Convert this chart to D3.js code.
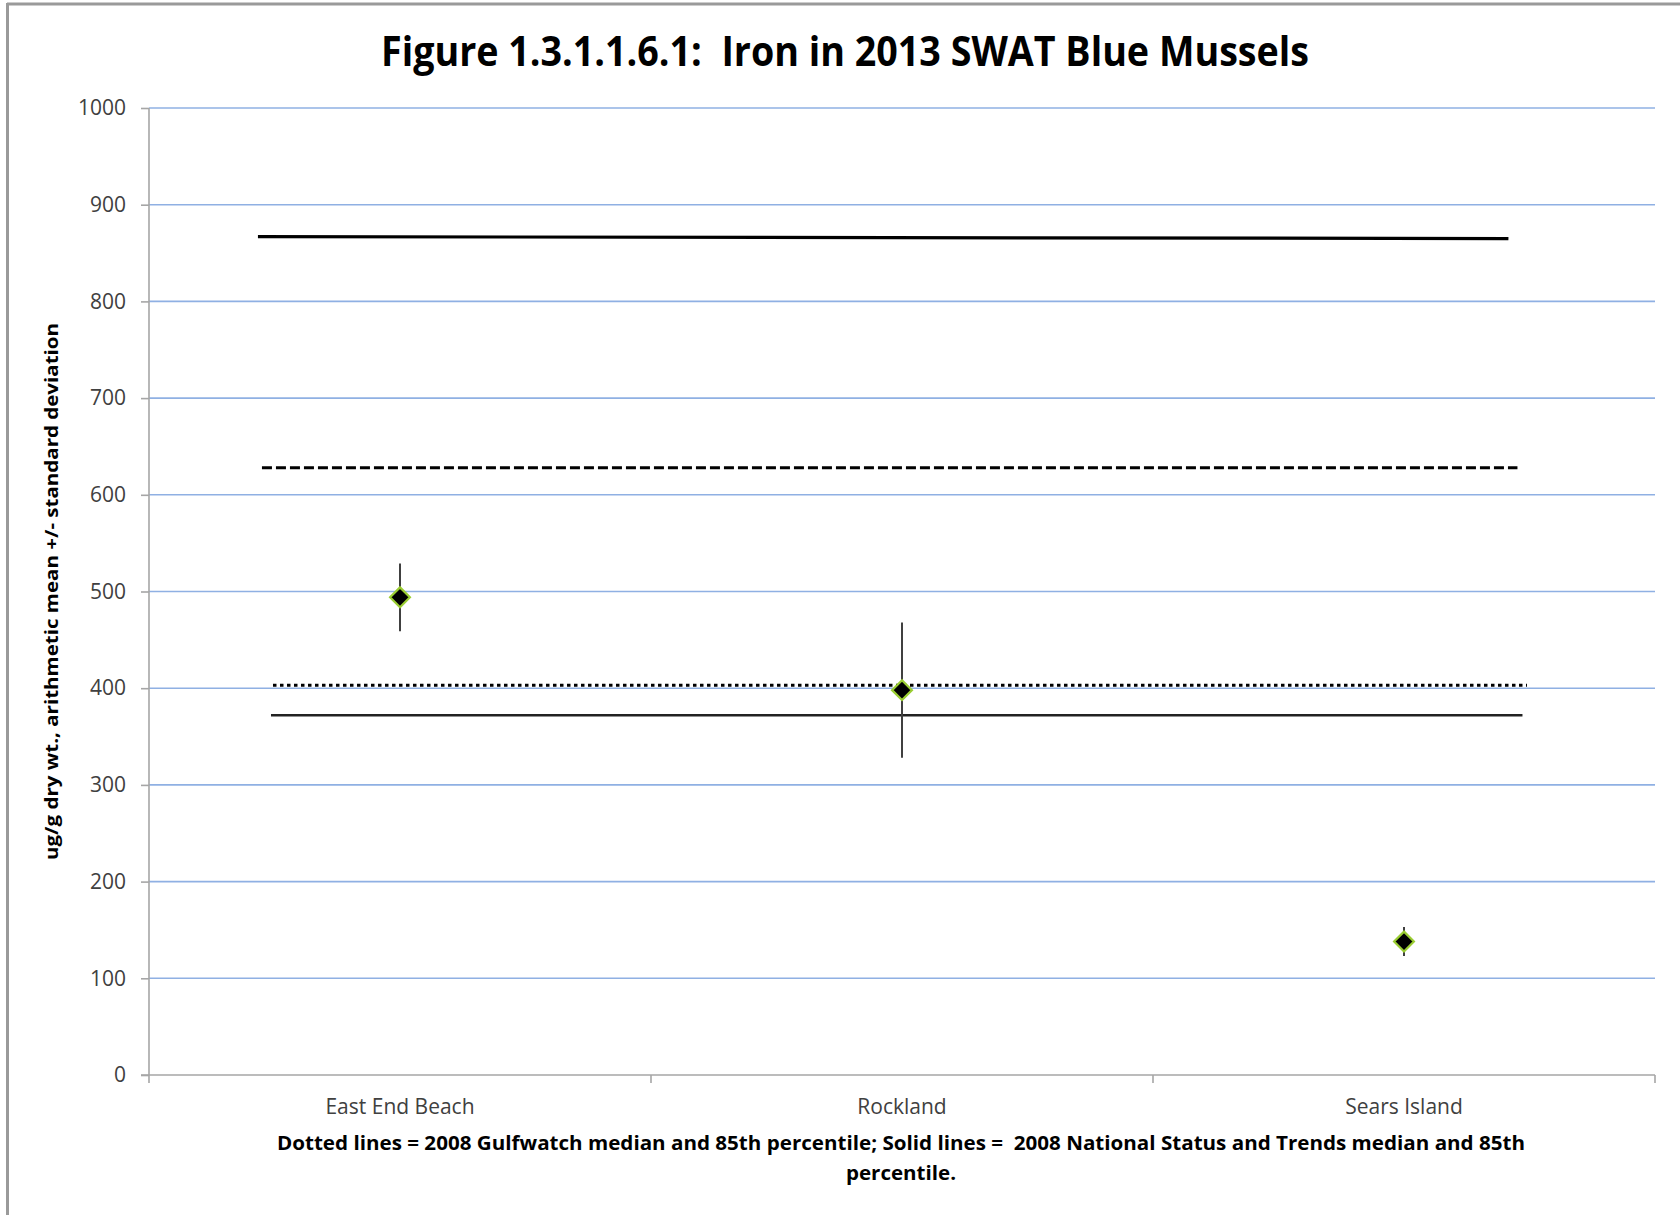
<!DOCTYPE html>
<html>
<head>
<meta charset="utf-8">
<script src="https://cdn.jsdelivr.net/npm/d3@7"></script>
<style>
  html, body { margin: 0; padding: 0; background: #fff; }
  svg { display: block; }
  text.pre { white-space: pre; }
</style>
</head>
<body>
<svg id="chart" width="1680" height="1215"></svg>
<script>
// ---- data ----
const categories = ["East End Beach", "Rockland", "Sears Island"];
const means = [494, 398, 138];
const stdDevs = [35, 70, 15];
const yTicks = [0, 100, 200, 300, 400, 500, 600, 700, 800, 900, 1000];

// reference lines (values in ug/g; extent in category-index units)
const refNames = ["NS&T 85th percentile", "Gulfwatch 85th percentile", "Gulfwatch median", "NS&T median"];
const refValuesStart = [867, 628, 403, 372];
const refValuesEnd = [865, 628, 403, 372];
const refStart = [-0.283, -0.275, -0.253, -0.257];
const refEnd = [2.208, 2.226, 2.245, 2.236];
const refKind = ["solid", "dashed", "dotted", "solid"];

const titleText = "Figure 1.3.1.1.6.1:  Iron in 2013 SWAT Blue Mussels";
const yLabelText = "ug/g dry wt., arithmetic mean +/- standard deviation";
const footLine1 = "Dotted lines = 2008 Gulfwatch median and 85th percentile; Solid lines =  2008 National Status and Trends median and 85th";
const footLine2 = "percentile.";

// ---- layout ----
const svg = d3.select("#chart");
const plot = { left: 149, right: 1655, top: 108, bottom: 1075 };

const x = d3.scaleBand().domain(categories).range([plot.left, plot.right]).padding(0);
const xi = d3.scaleLinear().domain([-0.5, categories.length - 0.5]).range([plot.left, plot.right]);
const y = d3.scaleLinear().domain([0, 1000]).range([plot.bottom, plot.top]);

const font = "'Open Sans', 'DejaVu Sans', sans-serif";

// outer frame (top & left edges visible)
svg.append("line").attr("x1", 7).attr("x2", 1680).attr("y1", 4).attr("y2", 4)
  .attr("stroke", "#9a9a9a").attr("stroke-width", 3);
svg.append("line").attr("x1", 7.5).attr("x2", 7.5).attr("y1", 3).attr("y2", 1215)
  .attr("stroke", "#9a9a9a").attr("stroke-width", 3);

// title
svg.append("text").attr("class", "pre")
  .attr("x", 845).attr("y", 66)
  .attr("text-anchor", "middle")
  .attr("font-family", font).attr("font-weight", "bold").attr("font-size", 42)
  .attr("fill", "#000")
  .attr("textLength", 928).attr("lengthAdjust", "spacingAndGlyphs")
  .text(titleText);

// gridlines
svg.append("g").selectAll("line")
  .data(yTicks.filter(d => d > 0))
  .join("line")
  .attr("x1", plot.left).attr("x2", plot.right)
  .attr("y1", d => y(d)).attr("y2", d => y(d))
  .attr("stroke", "#8fb0e3").attr("stroke-width", 1.6);

// y axis
const yAxis = d3.axisLeft(y).tickValues(yTicks).tickSize(8).tickPadding(15).tickFormat(d3.format("d"));
const gy = svg.append("g").attr("transform", `translate(${plot.left},0)`).call(yAxis);
gy.select(".domain").attr("stroke", "#a6a6a6").attr("stroke-width", 1.6).attr("d", `M0,${plot.top}V${plot.bottom}`);
gy.selectAll(".tick line").attr("stroke", "#a6a6a6").attr("stroke-width", 1.6);
gy.selectAll(".tick text").attr("font-family", font).attr("font-size", 21).attr("fill", "#404040");

// x axis
const xAxis = d3.axisBottom(x).tickSize(0).tickPadding(24);
const gx = svg.append("g").attr("transform", `translate(0,${plot.bottom})`).call(xAxis);
gx.select(".domain").attr("stroke", "#a6a6a6").attr("stroke-width", 1.6).attr("d", `M${plot.left - 8},0H${plot.right}`);
gx.selectAll(".tick text").attr("font-family", font).attr("font-size", 21).attr("fill", "#404040");
// category boundary ticks
const boundaries = d3.range(categories.length + 1).map(i => xi(i - 0.5));
svg.append("g").selectAll("line").data(boundaries).join("line")
  .attr("x1", d => d).attr("x2", d => d)
  .attr("y1", plot.bottom).attr("y2", plot.bottom + 8)
  .attr("stroke", "#a6a6a6").attr("stroke-width", 1.6);

// y label
svg.append("text")
  .attr("transform", `translate(58,${(plot.top + plot.bottom) / 2}) rotate(-90)`)
  .attr("text-anchor", "middle")
  .attr("font-family", font).attr("font-weight", "bold").attr("font-size", 18)
  .attr("fill", "#000")
  .attr("textLength", 537).attr("lengthAdjust", "spacingAndGlyphs")
  .text(yLabelText);

// reference lines
const dashFor = { solid: null, dashed: "10,4", dotted: "3.5,3.5" };
const widthFor = [3.2, 3, 3, 2.6];
svg.append("g").selectAll("line").data(refValuesStart).join("line")
  .attr("x1", (d, i) => xi(refStart[i])).attr("x2", (d, i) => xi(refEnd[i]))
  .attr("y1", d => y(d)).attr("y2", (d, i) => y(refValuesEnd[i]))
  .attr("stroke", (d, i) => i === 3 ? "#222" : "#000")
  .attr("stroke-width", (d, i) => widthFor[i])
  .attr("stroke-dasharray", (d, i) => dashFor[refKind[i]]);

// error bars
const cx = c => x(c) + x.bandwidth() / 2;
svg.append("g").selectAll("line").data(categories).join("line")
  .attr("x1", d => cx(d)).attr("x2", d => cx(d))
  .attr("y1", (d, i) => y(means[i] + stdDevs[i]))
  .attr("y2", (d, i) => y(means[i] - stdDevs[i]))
  .attr("stroke", "#404040").attr("stroke-width", 2);

// markers
const diamond = d3.symbol().type(d3.symbolDiamond2).size(250);
svg.append("g").selectAll("path").data(categories).join("path")
  .attr("d", diamond)
  .attr("transform", (d, i) => `translate(${cx(d)},${y(means[i])})`)
  .attr("fill", "#000").attr("stroke", "#9acd32").attr("stroke-width", 2.2);

// footnote
svg.append("text").attr("class", "pre")
  .attr("x", 901).attr("y", 1150)
  .attr("text-anchor", "middle")
  .attr("font-family", font).attr("font-weight", "bold").attr("font-size", 20)
  .attr("fill", "#000")
  .attr("textLength", 1248).attr("lengthAdjust", "spacingAndGlyphs")
  .text(footLine1);
svg.append("text")
  .attr("x", 901).attr("y", 1180)
  .attr("text-anchor", "middle")
  .attr("font-family", font).attr("font-weight", "bold").attr("font-size", 20)
  .attr("fill", "#000")
  .attr("textLength", 110).attr("lengthAdjust", "spacingAndGlyphs")
  .text(footLine2);
</script>
</body>
</html>
